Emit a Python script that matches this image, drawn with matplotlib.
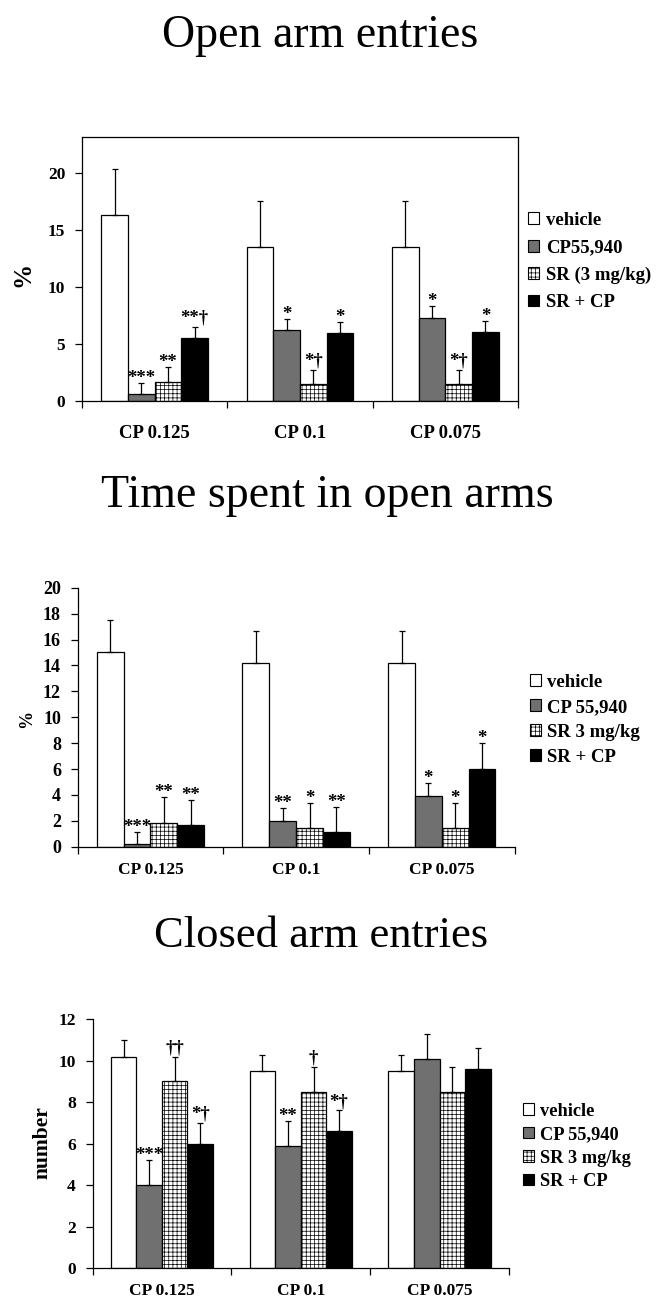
import matplotlib
matplotlib.use("Agg")
import matplotlib.pyplot as plt
from matplotlib.patches import Patch
import numpy as np

plt.rcParams['font.family'] = ['Liberation Serif', 'DejaVu Serif']
plt.rcParams['hatch.linewidth'] = 0.5

categories = ["CP 0.125", "CP 0.1", "CP 0.075"]

# Panel 1: Open arm entries (%)
p1_labels = ["vehicle", "CP55,940", "SR (3 mg/kg)", "SR + CP"]
p1_vehicle = [16.3, 13.5, 13.5]
p1_cp = [0.6, 6.2, 7.3]
p1_sr = [1.65, 1.45, 1.45]
p1_srcp = [5.5, 6.0, 6.05]
p1_vehicle_err = [4.0, 4.0, 4.0]
p1_cp_err = [1.0, 1.0, 1.0]
p1_sr_err = [1.35, 1.3, 1.3]
p1_srcp_err = [0.95, 0.95, 0.95]
p1_marks = [["", "***", "**", "**\u2020"],
            ["", "*", "*\u2020", "*"],
            ["", "*", "*\u2020", "*"]]

# Panel 2: Time spent in open arms (%)
p2_labels = ["vehicle", "CP 55,940", "SR 3 mg/kg", "SR + CP"]
p2_vehicle = [15.05, 14.15, 14.15]
p2_cp = [0.2, 2.0, 3.95]
p2_sr = [1.85, 1.42, 1.42]
p2_srcp = [1.65, 1.1, 6.0]
p2_vehicle_err = [2.45, 2.5, 2.5]
p2_cp_err = [0.95, 1.0, 1.0]
p2_sr_err = [2.0, 1.93, 1.93]
p2_srcp_err = [1.95, 2.0, 2.0]
p2_marks = [["", "***", "**", "**"],
            ["", "**", "*", "**"],
            ["", "*", "*", "*"]]

# Panel 3: Closed arm entries (number)
p3_labels = ["vehicle", "CP 55,940", "SR 3 mg/kg", "SR + CP"]
p3_vehicle = [10.2, 9.5, 9.5]
p3_cp = [4.0, 5.9, 10.1]
p3_sr = [9.0, 8.5, 8.5]
p3_srcp = [6.0, 6.6, 9.6]
p3_vehicle_err = [0.8, 0.8, 0.8]
p3_cp_err = [1.2, 1.2, 1.2]
p3_sr_err = [1.2, 1.2, 1.2]
p3_srcp_err = [1.0, 1.0, 1.0]
p3_marks = [["", "***", "\u2020\u2020", "*\u2020"],
            ["", "**", "\u2020", "*\u2020"],
            ["", "", "", ""]]

W, H = 662, 1301
fig = plt.figure(figsize=(W / 100, H / 100), dpi=100)

styles = [dict(facecolor="white", hatch=None),
          dict(facecolor="#707070", hatch=None),
          dict(facecolor="white", hatch="++++"),
          dict(facecolor="black", hatch=None)]


def px_rect(l, r, top, bot):
    return [l / W, 1 - bot / H, (r - l) / W, (bot - top) / H]


def panel(rect, series, errs, marks, labels, ylim, yticks, box, tfs, xfs,
          xpad, title, title_xy, tsize, ylabel, ylab_xy, ylab_fs,
          leg_xy, leg_fs, leg_sp):
    ax = fig.add_axes(rect)
    x = np.arange(len(categories))
    w = 0.184
    for i, (vals, er) in enumerate(zip(series, errs)):
        pos = x + (i - 1.5) * w
        st = styles[i]
        ax.bar(pos, vals, width=w, facecolor=st["facecolor"], edgecolor="black",
               linewidth=0.9, hatch=st["hatch"], zorder=2)
        ax.errorbar(pos, vals, yerr=[np.zeros(len(vals)), er], fmt="none",
                    ecolor="black", elinewidth=0.9, capsize=2.5, capthick=0.9,
                    zorder=3)
        for j in range(len(vals)):
            m = marks[j][i]
            if m:
                off = 0.3 if "\u2020" in m else -3
                ax.annotate(m, (pos[j], vals[j] + er[j]), xytext=(0, off),
                            textcoords="offset points", ha="center", va="bottom",
                            fontsize=13.5, fontweight="bold")
    ax.set_xlim(-0.5, len(categories) - 0.5)
    ax.set_ylim(*ylim)
    ax.set_yticks(yticks)
    ax.set_yticklabels([str(t) for t in yticks], fontsize=tfs, fontweight="bold")
    ax.set_xticks(np.arange(-0.5, len(categories)))
    ax.set_xticklabels([])
    ax.set_xticks(x, minor=True)
    ax.set_xticklabels(categories, minor=True, fontsize=xfs, fontweight="bold")
    ax.tick_params(axis="x", which="minor", length=0, pad=xpad)
    ax.tick_params(axis="x", which="major", direction="out", length=5, width=0.9)
    ax.tick_params(axis="y", direction="out", length=5, width=0.9, pad=7)
    for s in ax.spines.values():
        s.set_linewidth(0.9)
    if not box:
        ax.spines["top"].set_visible(False)
        ax.spines["right"].set_visible(False)
    fig.text(title_xy[0] / W, 1 - title_xy[1] / H, title, fontsize=tsize,
             ha="center", va="baseline")
    fig.text(ylab_xy[0] / W, 1 - ylab_xy[1] / H, ylabel, rotation=90,
             fontsize=ylab_fs, fontweight="bold", ha="center", va="center")
    handles = [Patch(facecolor=st["facecolor"], edgecolor="black", hatch=st["hatch"],
                     linewidth=0.8) for st in styles]
    fig.legend(handles, labels, loc="center left",
               bbox_to_anchor=(leg_xy[0] / W, 1 - leg_xy[1] / H),
               frameon=False, borderpad=0, borderaxespad=0,
               handlelength=0.6, handleheight=0.6, handletextpad=0.35,
               labelspacing=leg_sp,
               prop=dict(family="Liberation Serif", weight="bold", size=leg_fs))
    return ax


panel(px_rect(82, 518, 137.3, 401),
      [p1_vehicle, p1_cp, p1_sr, p1_srcp],
      [p1_vehicle_err, p1_cp_err, p1_sr_err, p1_srcp_err],
      p1_marks, p1_labels, (0, 23.1), [0, 5, 10, 15, 20], True, 12.5, 13.5, 17,
      "Open arm entries", (320, 47), 33, "%", (23, 274), 18,
      (528, 261.5), 13.5, 0.55)

panel(px_rect(77.6, 514.6, 587.7, 846.7),
      [p2_vehicle, p2_cp, p2_sr, p2_srcp],
      [p2_vehicle_err, p2_cp_err, p2_sr_err, p2_srcp_err],
      p2_marks, p2_labels, (0, 20), list(range(0, 21, 2)), False, 13, 12.5, 11,
      "Time spent in open arms", (327, 507), 33, "%", (27, 719), 13,
      (529.5, 719.7), 13.5, 0.42)

panel(px_rect(92.5, 509, 1019.3, 1268),
      [p3_vehicle, p3_cp, p3_sr, p3_srcp],
      [p3_vehicle_err, p3_cp_err, p3_sr_err, p3_srcp_err],
      p3_marks, p3_labels, (0, 12), list(range(0, 13, 2)), False, 12.5, 12.5, 10.5,
      "Closed arm entries", (321, 947), 32, "number", (42, 1143), 15.5,
      (522.7, 1146.3), 13.2, 0.35)

fig.savefig("out.png", dpi=100)
